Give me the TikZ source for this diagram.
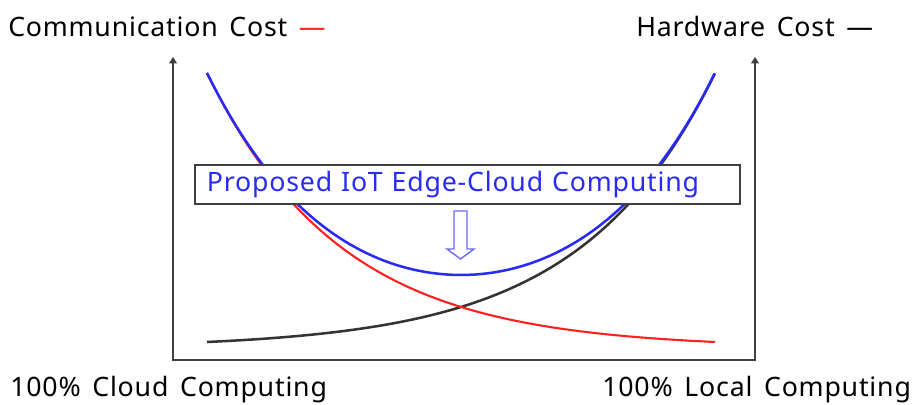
\documentclass[tikz,border=0pt]{standalone}
\usepackage{fontspec}
\setmainfont[LetterSpace=3,WordSpace=1.5]{Noto Sans}
\usepackage{xcolor}
\usetikzlibrary{arrows.meta,positioning}
\definecolor{CostRed}{HTML}{FF2020}
\definecolor{CostDark}{HTML}{333333}
\definecolor{EdgeBlue}{HTML}{2A2AF5}
\definecolor{AxisGray}{HTML}{404040}
\tikzset{
  declare function={commcost(\t)=269*(exp(-3.8*\t)-exp(-3.8))/(1-exp(-3.8));
                    hwcost(\t)=commcost(1-\t);},
  labeltext/.style={font=\fontsize{19}{22}\selectfont,inner sep=0pt},
  axisline/.style={{Triangle[length=4.5pt,width=5.5pt]}-{Triangle[length=4.5pt,width=5.5pt]},line width=0.9pt,draw=AxisGray},
  redcurve/.style={line width=1.5pt,draw=CostRed},
  darkcurve/.style={line width=1.8pt,draw=CostDark},
  bluecurve/.style={line width=1.8pt,draw=EdgeBlue},
  proposalbox/.style={draw=AxisGray,line width=1pt,fill=white,labeltext,text=EdgeBlue,
    minimum width=13.625cm,minimum height=0.975cm,inner xsep=0.3cm,text width=13.025cm,align=left},
  hollowarrow/.style={draw=EdgeBlue!70,line width=1pt,fill=white,line join=miter}
}
\begin{document}
\begin{tikzpicture}[x=0.025cm,y=0.025cm]
\useasboundingbox (0,0) rectangle (912,405);
% axes
\draw[axisline] (173,348) -- (173,45) -- (755,45) -- (755,348);
% cost curves
\draw[darkcurve] plot[domain=0:1,samples=90] ({207+508*\x},{63+hwcost(\x)});
\draw[redcurve] plot[domain=0:1,samples=90] ({207+508*\x},{63+commcost(\x)});
\draw[bluecurve] plot[domain=0:1,samples=90] ({207+508*\x},{63+commcost(\x)+hwcost(\x)-12*\x*(1-\x)});
% proposal
\node[proposalbox] (proposal) at (467.5,220.5) {\raisebox{-2pt}{Proposed IoT Edge-Cloud Computing}};
\draw[hollowarrow] (454,194) -- (467,194) -- (467,156) -- (474,156) -- (460.5,146) -- (447,156) -- (454,156) -- cycle;
% labels
\node[labeltext,anchor=base west] (commlabel) at (8,368) {Communication Cost \textcolor{CostRed}{—}};
\node[labeltext,anchor=base west] (hwlabel) at (636,368) {Hardware Cost —};
\node[labeltext,anchor=base west] (cloudlabel) at (10,8) {100\% Cloud Computing};
\node[labeltext,anchor=base west] (locallabel) at (602,8) {100\% Local Computing};
\end{tikzpicture}
\end{document}
